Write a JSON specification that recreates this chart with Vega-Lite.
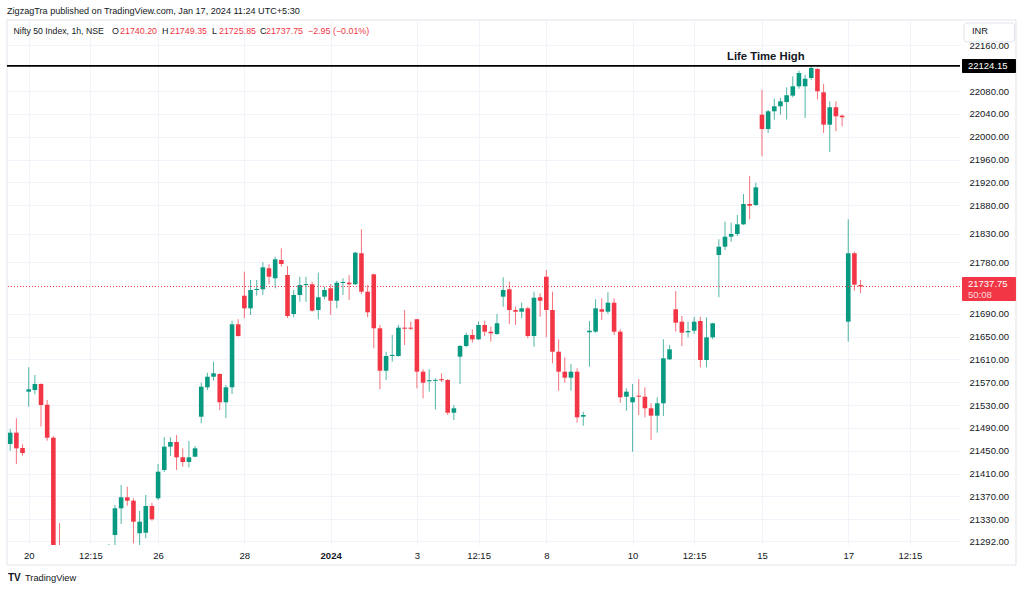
{
  "$schema": "https://vega.github.io/schema/vega-lite/v6.json",
  "width": 953,
  "height": 525,
  "autosize": "none",
  "padding": {"left": 7, "top": 20, "right": 64, "bottom": 46},
  "background": "white",
  "config": {"view": {"stroke": null}, "font": "Liberation Sans", "text": {"font": "Liberation Sans"}},
  "layer": [
    {
      "data": {"name": "candles", "values": [
        {"i": -3, "o": 21461.9, "h": 21488.1, "l": 21450.1, "c": 21481.7},
        {"i": -2, "o": 21481.7, "h": 21506.9, "l": 21426.9, "c": 21454.3},
        {"i": -1, "o": 21454.9, "h": 21461.4, "l": 21441.4, "c": 21446.1},
        {"i": 0, "o": 21553.5, "h": 21596.2, "l": 21527.2, "c": 21557.7},
        {"i": 1, "o": 21556.4, "h": 21582.7, "l": 21548.9, "c": 21566.9},
        {"i": 2, "o": 21566.9, "h": 21568.2, "l": 21492.2, "c": 21530.2},
        {"i": 3, "o": 21530.7, "h": 21538.9, "l": 21467.6, "c": 21472.9},
        {"i": 4, "o": 21472.9, "h": 21475.9, "l": 21245, "c": 21262},
        {"i": 5, "o": 21262, "h": 21323.5, "l": 21120, "c": 21180},
        {"i": 6, "o": 21180, "h": 21230, "l": 21087, "c": 21150},
        {"i": 7, "o": 21150, "h": 21170, "l": 21000, "c": 21050},
        {"i": 8, "o": 21050, "h": 21120, "l": 20980, "c": 21100},
        {"i": 9, "o": 21100, "h": 21160, "l": 21080, "c": 21140},
        {"i": 10, "o": 21140, "h": 21180, "l": 21110, "c": 21160},
        {"i": 11, "o": 21160, "h": 21200, "l": 21130, "c": 21190},
        {"i": 12, "o": 21190, "h": 21250, "l": 21180, "c": 21240},
        {"i": 13, "o": 21240, "h": 21286.7, "l": 21230, "c": 21255},
        {"i": 14, "o": 21302.5, "h": 21355.0, "l": 21278, "c": 21349.3},
        {"i": 15, "o": 21349.3, "h": 21390.1, "l": 21321.8, "c": 21368.5},
        {"i": 16, "o": 21368.5, "h": 21387.1, "l": 21353.8, "c": 21362.6},
        {"i": 17, "o": 21362.6, "h": 21366.8, "l": 21288, "c": 21325.8},
        {"i": 18, "o": 21305.5, "h": 21344.5, "l": 21280, "c": 21325.8},
        {"i": 19, "o": 21306.5, "h": 21372.6, "l": 21296.7, "c": 21353.3},
        {"i": 20, "o": 21353.3, "h": 21359.1, "l": 21327.6, "c": 21330},
        {"i": 21, "o": 21366.8, "h": 21426.9, "l": 21363.8, "c": 21413.4},
        {"i": 22, "o": 21416.3, "h": 21473.6, "l": 21412.8, "c": 21457.2},
        {"i": 23, "o": 21457.2, "h": 21473.6, "l": 21440.9, "c": 21465.4},
        {"i": 24, "o": 21465.4, "h": 21477.6, "l": 21416.3, "c": 21438.6},
        {"i": 25, "o": 21438.6, "h": 21454.3, "l": 21422.1, "c": 21430.4},
        {"i": 26, "o": 21430.4, "h": 21467.1, "l": 21421.1, "c": 21438.6},
        {"i": 27, "o": 21439.6, "h": 21458.4, "l": 21439.1, "c": 21454.3},
        {"i": 28, "o": 21509.7, "h": 21569.2, "l": 21498.1, "c": 21562.2},
        {"i": 29, "o": 21561.2, "h": 21586.7, "l": 21556.4, "c": 21579.7},
        {"i": 30, "o": 21579.7, "h": 21606, "l": 21572.7, "c": 21585.7},
        {"i": 31, "o": 21584.5, "h": 21585.7, "l": 21521.4, "c": 21534.9},
        {"i": 32, "o": 21534.9, "h": 21565.2, "l": 21506.9, "c": 21561.2},
        {"i": 33, "o": 21561.2, "h": 21677.8, "l": 21549.4, "c": 21671.5},
        {"i": 34, "o": 21671.5, "h": 21680.3, "l": 21649.8, "c": 21651},
        {"i": 35, "o": 21721.6, "h": 21763.6, "l": 21682, "c": 21699.5},
        {"i": 36, "o": 21699.5, "h": 21749.1, "l": 21687.8, "c": 21731.6},
        {"i": 37, "o": 21731.6, "h": 21749.1, "l": 21721.6, "c": 21733.4},
        {"i": 38, "o": 21732.8, "h": 21780.1, "l": 21722.8, "c": 21771.3},
        {"i": 39, "o": 21769.6, "h": 21776.6, "l": 21742.1, "c": 21754.9},
        {"i": 40, "o": 21752.1, "h": 21789.9, "l": 21734.6, "c": 21785.3},
        {"i": 41, "o": 21784.1, "h": 21804.6, "l": 21772.4, "c": 21777.1},
        {"i": 42, "o": 21757.8, "h": 21773.6, "l": 21682.5, "c": 21686},
        {"i": 43, "o": 21689.5, "h": 21731.6, "l": 21683.8, "c": 21722.8},
        {"i": 44, "o": 21722.8, "h": 21754.9, "l": 21711.1, "c": 21740.3},
        {"i": 45, "o": 21740.2, "h": 21754.9, "l": 21710.6, "c": 21742.1},
        {"i": 46, "o": 21741.6, "h": 21746.1, "l": 21693.6, "c": 21695.3},
        {"i": 47, "o": 21696.5, "h": 21761.9, "l": 21680.3, "c": 21718.8},
        {"i": 48, "o": 21719.9, "h": 21737.4, "l": 21715.3, "c": 21731.6},
        {"i": 49, "o": 21734.6, "h": 21742.1, "l": 21687.8, "c": 21712.8},
        {"i": 50, "o": 21712.8, "h": 21747.9, "l": 21699.5, "c": 21744.4},
        {"i": 51, "o": 21743.8, "h": 21752.1, "l": 21722.8, "c": 21745.6},
        {"i": 52, "o": 21744.4, "h": 21757.8, "l": 21714, "c": 21741.6},
        {"i": 53, "o": 21741.6, "h": 21798.1, "l": 21740.3, "c": 21796.9},
        {"i": 54, "o": 21795.9, "h": 21837.9, "l": 21724.6, "c": 21728.6},
        {"i": 55, "o": 21728.6, "h": 21740.3, "l": 21683.8, "c": 21692.5},
        {"i": 56, "o": 21759, "h": 21760, "l": 21629.5, "c": 21664.5},
        {"i": 57, "o": 21664.5, "h": 21670.3, "l": 21557.7, "c": 21590.2},
        {"i": 58, "o": 21590.2, "h": 21623.5, "l": 21574, "c": 21616},
        {"i": 59, "o": 21616, "h": 21652.8, "l": 21606, "c": 21617.9},
        {"i": 60, "o": 21616, "h": 21670.3, "l": 21614.8, "c": 21665.6},
        {"i": 61, "o": 21665.6, "h": 21696.5, "l": 21635.3, "c": 21663.8},
        {"i": 62, "o": 21665.6, "h": 21676.1, "l": 21661.5, "c": 21663.8},
        {"i": 63, "o": 21680.3, "h": 21681, "l": 21559.4, "c": 21588.5},
        {"i": 64, "o": 21588.5, "h": 21592.7, "l": 21541.9, "c": 21569.2},
        {"i": 65, "o": 21571.7, "h": 21592.7, "l": 21553.5, "c": 21573.6},
        {"i": 66, "o": 21572.4, "h": 21576.9, "l": 21522.6, "c": 21574.2},
        {"i": 67, "o": 21575.4, "h": 21585.7, "l": 21570.5, "c": 21573.5},
        {"i": 68, "o": 21574, "h": 21575.7, "l": 21512.7, "c": 21516.7},
        {"i": 69, "o": 21516.7, "h": 21530.2, "l": 21503.9, "c": 21524.4},
        {"i": 70, "o": 21614.8, "h": 21635.3, "l": 21566.9, "c": 21633.5},
        {"i": 71, "o": 21633.5, "h": 21656.8, "l": 21631.2, "c": 21652.8},
        {"i": 72, "o": 21652.8, "h": 21662.7, "l": 21639.3, "c": 21645.2},
        {"i": 73, "o": 21645.2, "h": 21676.1, "l": 21644, "c": 21670.3},
        {"i": 74, "o": 21670.3, "h": 21677.8, "l": 21651, "c": 21658.6},
        {"i": 75, "o": 21658.6, "h": 21667.4, "l": 21641.1, "c": 21655.7},
        {"i": 76, "o": 21654.5, "h": 21689.5, "l": 21652.8, "c": 21673.3},
        {"i": 77, "o": 21719.9, "h": 21753.8, "l": 21702.4, "c": 21731.6},
        {"i": 78, "o": 21732.8, "h": 21746.1, "l": 21672, "c": 21696.5},
        {"i": 79, "o": 21696.5, "h": 21702.4, "l": 21670.3, "c": 21693.6},
        {"i": 80, "o": 21693.6, "h": 21709.3, "l": 21682, "c": 21699.5},
        {"i": 81, "o": 21699.5, "h": 21702.4, "l": 21647, "c": 21651},
        {"i": 82, "o": 21651, "h": 21728.6, "l": 21632.3, "c": 21718.1},
        {"i": 83, "o": 21718.8, "h": 21725.8, "l": 21684.8, "c": 21712.8},
        {"i": 84, "o": 21754.9, "h": 21766.6, "l": 21648.7, "c": 21696.5},
        {"i": 85, "o": 21696.5, "h": 21728.6, "l": 21603.2, "c": 21623.5},
        {"i": 86, "o": 21623.5, "h": 21645.2, "l": 21555.2, "c": 21588.5},
        {"i": 87, "o": 21588.5, "h": 21613.7, "l": 21569.2, "c": 21578},
        {"i": 88, "o": 21578, "h": 21602, "l": 21555.2, "c": 21588.5},
        {"i": 89, "o": 21588.5, "h": 21594.5, "l": 21499.2, "c": 21508.6},
        {"i": 90, "o": 21509.7, "h": 21518.4, "l": 21493.9, "c": 21512.7},
        {"i": 91, "o": 21657.5, "h": 21677.3, "l": 21597.2, "c": 21660.3},
        {"i": 92, "o": 21658.6, "h": 21715.3, "l": 21656.8, "c": 21699.5},
        {"i": 93, "o": 21697.8, "h": 21717, "l": 21679, "c": 21693.6},
        {"i": 94, "o": 21693.6, "h": 21727.5, "l": 21689.5, "c": 21709.3},
        {"i": 95, "o": 21709.3, "h": 21717, "l": 21652.8, "c": 21658.6},
        {"i": 96, "o": 21658.6, "h": 21662.7, "l": 21534.2, "c": 21543.7},
        {"i": 97, "o": 21544.7, "h": 21559.4, "l": 21520.2, "c": 21553.5},
        {"i": 98, "o": 21534.9, "h": 21566.9, "l": 21448.4, "c": 21543.7},
        {"i": 99, "o": 21546.5, "h": 21575.7, "l": 21512.7, "c": 21544.7},
        {"i": 100, "o": 21544.7, "h": 21561.2, "l": 21508.6, "c": 21524.4},
        {"i": 101, "o": 21524.4, "h": 21533.2, "l": 21468.9, "c": 21511.5},
        {"i": 102, "o": 21511.5, "h": 21543.7, "l": 21481.7, "c": 21533.2},
        {"i": 103, "o": 21533.2, "h": 21645.2, "l": 21510.9, "c": 21612},
        {"i": 104, "o": 21610.2, "h": 21635.3, "l": 21609, "c": 21627.7},
        {"i": 105, "o": 21697.8, "h": 21729.8, "l": 21658.6, "c": 21674.3},
        {"i": 106, "o": 21676.1, "h": 21686, "l": 21633.5, "c": 21656.8},
        {"i": 107, "o": 21657.5, "h": 21676.1, "l": 21648.7, "c": 21659.8},
        {"i": 108, "o": 21660.3, "h": 21684.8, "l": 21654.5, "c": 21676.1},
        {"i": 109, "o": 21677.3, "h": 21684.8, "l": 21596.2, "c": 21609},
        {"i": 110, "o": 21609, "h": 21683.8, "l": 21596.2, "c": 21648.7},
        {"i": 111, "o": 21648.7, "h": 21674.3, "l": 21645.2, "c": 21673.3},
        {"i": 112, "o": 21792.9, "h": 21820.4, "l": 21718.8, "c": 21807.4},
        {"i": 113, "o": 21807.4, "h": 21851.2, "l": 21801.6, "c": 21824.9},
        {"i": 114, "o": 21824.9, "h": 21849.4, "l": 21816.2, "c": 21829.7},
        {"i": 115, "o": 21829.7, "h": 21862.9, "l": 21826.1, "c": 21846.6},
        {"i": 116, "o": 21846.6, "h": 21899.7, "l": 21845.4, "c": 21882.2},
        {"i": 117, "o": 21882.2, "h": 21931.2, "l": 21855.4, "c": 21879.2},
        {"i": 118, "o": 21880.4, "h": 21919.5, "l": 21878.7, "c": 21911.4},
        {"i": 119, "o": 22038.6, "h": 22082.4, "l": 21965.7, "c": 22013.5},
        {"i": 120, "o": 22013.5, "h": 22047.3, "l": 22006.5, "c": 22044.5},
        {"i": 121, "o": 22044.5, "h": 22066.6, "l": 22029.9, "c": 22053.3},
        {"i": 122, "o": 22053.3, "h": 22067.8, "l": 22038.6, "c": 22062},
        {"i": 123, "o": 22060.8, "h": 22086.6, "l": 22029.9, "c": 22072.6},
        {"i": 124, "o": 22071.9, "h": 22105.8, "l": 22069.1, "c": 22088.3},
        {"i": 125, "o": 22088.3, "h": 22115.6, "l": 22084.1, "c": 22111.6},
        {"i": 126, "o": 22088.3, "h": 22108.6, "l": 22032.9, "c": 22101.6},
        {"i": 127, "o": 22102.8, "h": 22124.15, "l": 22099.8, "c": 22120.4},
        {"i": 128, "o": 22118.6, "h": 22120.4, "l": 22065.3, "c": 22079.6},
        {"i": 129, "o": 22077.8, "h": 22092.3, "l": 22006.5, "c": 22021.1},
        {"i": 130, "o": 22021.1, "h": 22062, "l": 21973.2, "c": 22051.6},
        {"i": 131, "o": 22051.6, "h": 22062, "l": 22009.5, "c": 22035.8},
        {"i": 132, "o": 22036.9, "h": 22038.6, "l": 22018.2, "c": 22034.1},
        {"i": 133, "o": 21676.1, "h": 21855.4, "l": 21641, "c": 21795.9},
        {"i": 134, "o": 21795.9, "h": 21798.7, "l": 21730.4, "c": 21741},
        {"i": 135, "o": 21740.2, "h": 21749.35, "l": 21725.85, "c": 21737.75}
      ]},
      "layer": [
        {
          "mark": {"type": "rule", "clip": true, "strokeWidth": 1, "opacity": 0.7},
          "encoding": {
            "x": {
              "field": "i", "type": "quantitative",
              "scale": {"domain": [-3.5216, 151.136], "nice": false, "zero": false, "padding": 0},
              "axis": {
                "title": null,
                "orient": "bottom",
                "values": [0, 10, 21, 35, 49, 63, 73, 84, 98, 108, 119, 133, 143],
                "tickCount": 60,
                "labelExpr": "['20','12:15','26','28','2024','3','12:15','8','10','12:15','15','17','12:15'][indexof([0,10,21,35,49,63,73,84,98,108,119,133,143], datum.value)]",
                "labelFontWeight": {"condition": {"test": "datum.value == 49", "value": "bold"}, "value": "normal"},
                "labelFontSize": 9.5,
                "labelColor": "#131722",
                "labelFont": "Liberation Sans",
                "labelPadding": 5,
                "labelOverlap": false,
                "labelFlush": false,
                "ticks": false,
                "tickSize": 0,
                "domain": false,
                "grid": true,
                "gridColor": "#f0f3fa",
                "gridWidth": 1
              }
            },
            "y": {
              "field": "l", "type": "quantitative",
              "scale": {"domain": [21285.0, 22204.4], "nice": false, "zero": false, "padding": 0},
              "axis": {
                "title": null,
                "orient": "right",
                "values": [21292, 21330, 21370, 21410, 21450, 21490, 21530, 21570, 21610, 21650, 21690, 21780, 21830, 21880, 21920, 21960, 22000, 22040, 22080, 22160],
                "tickCount": 60,
                "format": ".2f",
                "labelFontSize": 9.5,
                "labelColor": "#131722",
                "labelFont": "Liberation Sans",
                "labelAlign": "left",
                "labelPadding": 9,
                "labelOverlap": false,
                "labelFlush": false,
                "ticks": false,
                "tickSize": 0,
                "domain": false,
                "grid": true,
                "gridColor": "#f0f3fa",
                "gridWidth": 1
              }
            },
            "y2": {"field": "h"},
            "color": {"condition": {"test": "datum.c >= datum.o", "value": "#089981"}, "value": "#f23645"}
          }
        },
        {
          "mark": {"type": "bar", "clip": true, "size": 4.6},
          "encoding": {
            "x": {"field": "i", "type": "quantitative"},
            "y": {"field": "o", "type": "quantitative"},
            "y2": {"field": "c"},
            "color": {"condition": {"test": "datum.c >= datum.o", "value": "#089981"}, "value": "#f23645"}
          }
        }
      ]
    },
    {
      "data": {"values": [{}]},
      "mark": {"type": "rect", "fill": null, "fillOpacity": 0, "stroke": "#e0e3eb", "strokeWidth": 1},
      "encoding": {
        "x": {"datum": -3.52},
        "x2": {"datum": 160.22},
        "y": {"datum": 22204.4},
        "y2": {"datum": 21250}
      }
    },
    {
      "data": {"values": [{}]},
      "mark": {"type": "rule", "color": "#f23645", "strokeWidth": 1, "strokeDash": [1, 2]},
      "encoding": {"y": {"datum": 21737.75}}
    },
    {
      "data": {"values": [{}]},
      "mark": {"type": "rule", "color": "#000000", "strokeWidth": 1.8},
      "encoding": {"y": {"datum": 22124.15}}
    },
    {
      "data": {"values": [{}]},
      "mark": {"type": "text", "align": "left", "baseline": "middle", "fontSize": 11.3, "fontWeight": "bold", "color": "#131722"},
      "encoding": {"x": {"datum": 113.32}, "y": {"datum": 22139.6}, "text": {"value": "Life Time High"}}
    },
    {
      "data": {"values": [{}]},
      "mark": {"type": "rect", "color": "#000000", "cornerRadius": 1},
      "encoding": {"x": {"datum": 151.46}, "x2": {"datum": 160.22}, "y": {"datum": 22136.1}, "y2": {"datum": 22111.6}}
    },
    {
      "data": {"values": [{}]},
      "mark": {"type": "text", "align": "left", "baseline": "middle", "fontSize": 9.5, "color": "#ffffff"},
      "encoding": {"x": {"datum": 152.43}, "y": {"datum": 22123.9}, "text": {"value": "22124.15"}}
    },
    {
      "data": {"values": [{}]},
      "mark": {"type": "rect", "color": "#f23645", "cornerRadius": 1},
      "encoding": {"x": {"datum": 151.46}, "x2": {"datum": 160.22}, "y": {"datum": 21754.3}, "y2": {"datum": 21712.3}}
    },
    {
      "data": {"values": [{}]},
      "mark": {"type": "text", "align": "left", "baseline": "middle", "fontSize": 9.5, "color": "#ffffff"},
      "encoding": {"x": {"datum": 152.43}, "y": {"datum": 21742.1}, "text": {"value": "21737.75"}}
    },
    {
      "data": {"values": [{}]},
      "mark": {"type": "text", "align": "left", "baseline": "middle", "fontSize": 9.5, "color": "#ffffff", "opacity": 0.8},
      "encoding": {"x": {"datum": 152.43}, "y": {"datum": 21722.8}, "text": {"value": "50:08"}}
    },
    {
      "data": {"values": [{}]},
      "mark": {"type": "rect", "color": "#ffffff", "stroke": "#e0e3eb", "strokeWidth": 1, "cornerRadius": 3},
      "encoding": {"x": {"datum": 151.8}, "x2": {"datum": 160.0}, "y": {"datum": 22199.2}, "y2": {"datum": 22166.0}}
    },
    {
      "data": {"values": [{}]},
      "mark": {"type": "text", "align": "left", "baseline": "middle", "fontSize": 9.3, "color": "#131722"},
      "encoding": {"x": {"datum": 153.08}, "y": {"datum": 22185.2}, "text": {"value": "INR"}}
    },
    {
      "data": {"values": [{}]},
      "mark": {"type": "text", "align": "left", "baseline": "middle", "fontSize": 9.1, "color": "#131722"},
      "encoding": {"x": {"datum": -3.52}, "y": {"datum": 22220.2}, "text": {"value": "ZigzagTra published on TradingView.com, Jan 17, 2024 11:24 UTC+5:30"}}
    },
    {
      "data": {"values": [{}]},
      "mark": {"type": "text", "align": "left", "baseline": "middle", "fontSize": 8.7, "color": "#131722"},
      "encoding": {"x": {"datum": -2.47}, "y": {"datum": 22186.0}, "text": {"value": "Nifty 50 Index, 1h, NSE"}}
    },
    {
      "data": {"values": [{}]},
      "mark": {"type": "text", "align": "left", "baseline": "middle", "fontSize": 8.9, "color": "#131722"},
      "encoding": {"x": {"datum": 13.52}, "y": {"datum": 22186.0}, "text": {"value": "O"}}
    },
    {
      "data": {"values": [{}]},
      "mark": {"type": "text", "align": "left", "baseline": "middle", "fontSize": 8.9, "color": "#f23645"},
      "encoding": {"x": {"datum": 14.82}, "y": {"datum": 22186.0}, "text": {"value": "21740.20"}}
    },
    {
      "data": {"values": [{}]},
      "mark": {"type": "text", "align": "left", "baseline": "middle", "fontSize": 8.9, "color": "#131722"},
      "encoding": {"x": {"datum": 21.63}, "y": {"datum": 22186.0}, "text": {"value": "H"}}
    },
    {
      "data": {"values": [{}]},
      "mark": {"type": "text", "align": "left", "baseline": "middle", "fontSize": 8.9, "color": "#f23645"},
      "encoding": {"x": {"datum": 22.93}, "y": {"datum": 22186.0}, "text": {"value": "21749.35"}}
    },
    {
      "data": {"values": [{}]},
      "mark": {"type": "text", "align": "left", "baseline": "middle", "fontSize": 8.9, "color": "#131722"},
      "encoding": {"x": {"datum": 29.75}, "y": {"datum": 22186.0}, "text": {"value": "L"}}
    },
    {
      "data": {"values": [{}]},
      "mark": {"type": "text", "align": "left", "baseline": "middle", "fontSize": 8.9, "color": "#f23645"},
      "encoding": {"x": {"datum": 30.88}, "y": {"datum": 22186.0}, "text": {"value": "21725.85"}}
    },
    {
      "data": {"values": [{}]},
      "mark": {"type": "text", "align": "left", "baseline": "middle", "fontSize": 8.9, "color": "#131722"},
      "encoding": {"x": {"datum": 37.54}, "y": {"datum": 22186.0}, "text": {"value": "C"}}
    },
    {
      "data": {"values": [{}]},
      "mark": {"type": "text", "align": "left", "baseline": "middle", "fontSize": 8.9, "color": "#f23645"},
      "encoding": {"x": {"datum": 38.51}, "y": {"datum": 22186.0}, "text": {"value": "21737.75"}}
    },
    {
      "data": {"values": [{}]},
      "mark": {"type": "text", "align": "left", "baseline": "middle", "fontSize": 8.9, "color": "#f23645"},
      "encoding": {"x": {"datum": 45.33}, "y": {"datum": 22186.0}, "text": {"value": "−2.95 (−0.01%)"}}
    },
    {
      "data": {"values": [{}]},
      "mark": {"type": "text", "align": "left", "baseline": "middle", "fontSize": 10, "fontWeight": 900, "color": "#131722"},
      "encoding": {"x": {"datum": -3.36}, "y": {"datum": 21227.2}, "text": {"value": "TV"}}
    },
    {
      "data": {"values": [{}]},
      "mark": {"type": "text", "align": "left", "baseline": "middle", "fontSize": 9.3, "color": "#131722"},
      "encoding": {"x": {"datum": -0.6}, "y": {"datum": 21227.2}, "text": {"value": "TradingView"}}
    }
  ]
}
